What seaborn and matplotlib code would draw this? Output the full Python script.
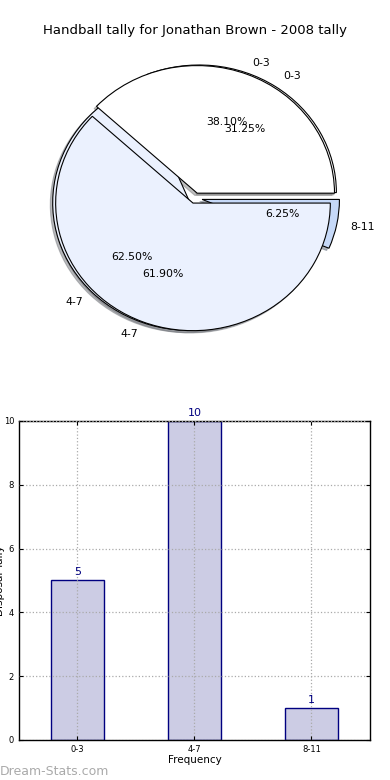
import matplotlib
matplotlib.use('Agg')
import matplotlib.pyplot as plt
import seaborn as sns

# pie data (two tallies drawn over each other)
pie1_labels = ['0-3', '4-7']
pie1_values = [8, 13]
pie2_labels = ['0-3', '4-7', '8-11']
pie2_values = [5, 10, 1]

# bar data
categories = ['0-3', '4-7', '8-11']
counts = [5, 10, 1]

pie_colors = ['#ffffff', '#ebf1fe', '#c6d9f8']

fig = plt.figure(figsize=(3.9, 7.8), dpi=100)

shadow = {'ox': -0.012, 'oy': -0.012, 'shade': 0.5}
ax1 = fig.add_axes([0.0417, 0.533, 0.917, 0.426])
ax1.pie(pie2_values, labels=pie2_labels, colors=pie_colors, explode=[0.05, 0.05, 0.05],
        autopct='%.2f%%', shadow=shadow, startangle=0, radius=0.96,
        wedgeprops={'edgecolor': 'black', 'linewidth': 0.8},
        textprops={'fontsize': 7.8})
ax1.pie(pie1_values, labels=pie1_labels, colors=pie_colors[:2], explode=[0.04, 0.04],
        autopct='%.2f%%', shadow=shadow, startangle=0, radius=0.96,
        wedgeprops={'edgecolor': 'black', 'linewidth': 0.8},
        textprops={'fontsize': 7.8})
ax1.set_aspect('auto')
ax1.set_xlim(-1.25, 1.25)
ax1.set_ylim(-1.25, 1.25)
fig.text(0.5, 0.957, 'Handball tally for Jonathan Brown - 2008 tally', ha='center', fontsize=9.5)

ax2 = fig.add_axes([0.0487, 0.0513, 0.9, 0.409])
sns.barplot(x=categories, y=counts, color='#ccccE4', edgecolor='#000080', linewidth=1,
            saturation=1, width=0.45, ax=ax2)
for i, v in enumerate(counts):
    ax2.text(i, v + 0.1, str(v), ha='center', va='bottom', color='#000080', fontsize=8)
ax2.set_xlim(-0.5, 2.5)
ax2.set_ylim(0, 10)
ax2.set_yticks([0, 2, 4, 6, 8, 10])
ax2.grid(True, linestyle=':', color='#aaaaaa', linewidth=0.9)
ax2.set_axisbelow(False)
ax2.tick_params(direction='in', labelsize=6, top=True, right=True, length=3)
ax2.set_xlabel('Frequency', fontsize=7.5, labelpad=1)
ax2.set_ylabel('')
fig.text(-0.012, 0.256, 'Disposal Tally', rotation=90, va='center', ha='left', fontsize=7.5)
for s in ax2.spines.values():
    s.set_linewidth(1)

fig.text(0.0, 0.007, 'Dream-Stats.com', color='#aaaaaa', fontsize=9)

fig.savefig('out.png', dpi=100)
